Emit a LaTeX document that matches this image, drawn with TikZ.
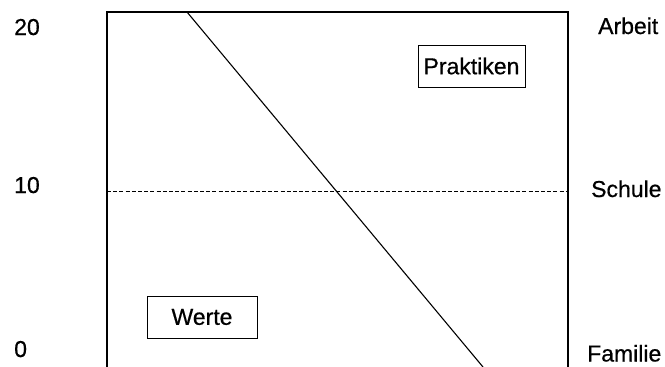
\documentclass[tikz,border=0pt]{standalone}
\usepackage{fontspec}
\setmainfont{Liberation Sans}[BoldFont=Liberation Sans,BoldFeatures={FakeBold=0.6}]
\begin{document}
\begin{tikzpicture}[x=1pt,y=-1pt,
  lbl/.style={inner sep=0pt,anchor=base west,font=\fontsize{23}{27}\selectfont\bfseries},
  tag/.style={draw,line width=1pt,inner sep=0pt,minimum width=108pt,minimum height=42pt,font=\fontsize{23}{27}\selectfont\bfseries},
  frameline/.style={line width=1.4pt},
  diag/.style={line width=1.1pt},
  dashline/.style={line width=1pt,dash pattern=on 4pt off 2.2pt}]
\useasboundingbox (0,0) rectangle (665,367);
% frame
\coordinate (fbl) at (107,367);
\coordinate (ftl) at (107,12);
\coordinate (ftr) at (568,12);
\coordinate (fbr) at (568,367);
\draw[frameline] (fbl) -- (ftl) -- (ftr) -- (fbr);
% dashed line
\coordinate (dl) at (107,191.7);
\coordinate (dr) at (568,191.7);
\draw[dashline] (dl) -- (dr);
% diagonal
\coordinate (gt) at (187,12);
\coordinate (gb) at (483,367);
\draw[diag] (gt) -- (gb);
% boxes
\node[tag,minimum width=107pt] (prak) at (471.5,66) {Praktiken};
\node[tag,minimum width=110pt] (werte) at (202,317) {Werte};
% left scale
\node[lbl] (n20) at (14,35) {20};
\node[lbl] (n10) at (14,193) {10};
\node[lbl] (n0) at (14,357) {0};
% right labels
\node[lbl] (arb) at (598,34) {Arbeit};
\node[lbl] (sch) at (591,197) {Schule};
\node[lbl] (fam) at (587,361.5) {Familie};
\end{tikzpicture}
\end{document}
